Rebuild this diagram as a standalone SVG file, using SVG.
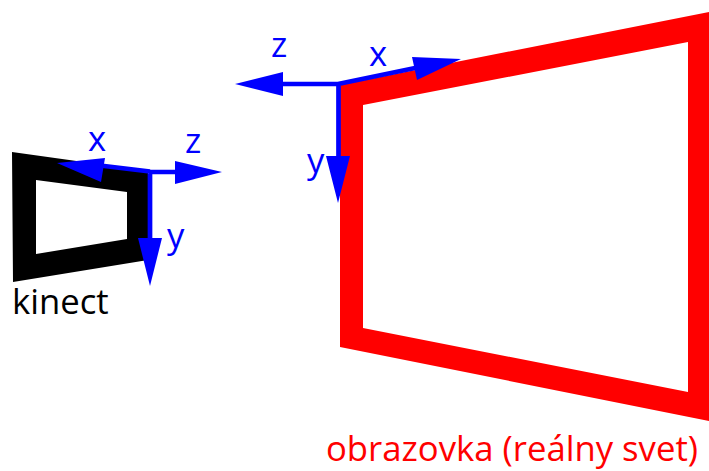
<svg xmlns="http://www.w3.org/2000/svg" width="709" height="471" viewBox="0 0 709 471">
<defs>
<style>
.lbl{font-family:"Open Sans","Noto Sans",sans-serif;font-size:34.7px}
.b{fill:#0000ff}
.ax{stroke:#0000ff;stroke-width:4.7;fill:none}
</style>
</defs>
<rect width="709" height="471" fill="#fff"/>
<g id="screen">
<path fill="#ff0000" fill-rule="evenodd" d="M340 85L709 12V421L340 347ZM363 105V328L688 392V42Z"/>
<text class="lbl" x="326" y="460.500" fill="#ff0000">obrazovka (reálny svet)</text>
</g>
<g id="kinect">
<path fill="#000" fill-rule="evenodd" d="M12 152L148 171V260L13 282ZM36 180V254L127 239V192Z"/>
<text class="lbl" x="12" y="314" fill="#000">kinect</text>
</g>
<g id="connectors">
<path class="ax" d="M338.500 84H282M338 84L420 67M338.500 84V160"/>
<path class="b" d="M235 84L283 72V96ZM461 59L412 57L417 80ZM338 203L326 156H350Z"/>
<path class="ax" d="M150 172H180M150 171.500L100 165.500M150 170V240"/>
<path class="b" d="M222 172L175 161V184ZM57 163L105 158L101 182ZM150 286L138 238H162Z"/>
</g>
<g id="labels" class="lbl">
<text class="b" x="271" y="57">z</text>
<text class="b" x="369" y="66">x</text>
<text class="b" x="307" y="173">y</text>
<text class="b" x="88" y="151">x</text>
<text class="b" x="185" y="153">z</text>
<text class="b" x="167" y="248">y</text>
</g>
</svg>
